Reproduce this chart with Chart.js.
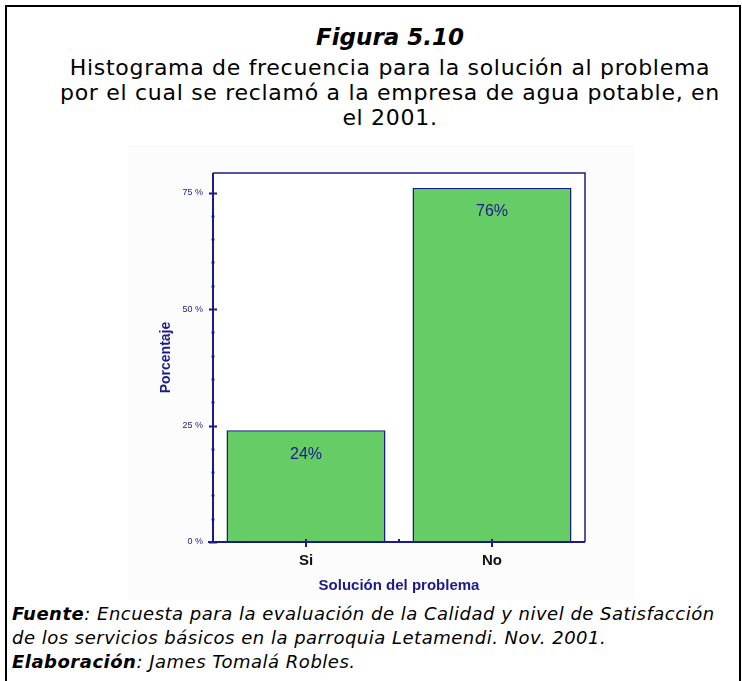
<!DOCTYPE html>
<html><head>
<meta charset="utf-8">
<title>Figura 5.10</title>
<script src="https://cdn.jsdelivr.net/npm/chart.js"></script>
<style>
  body { margin:0; background:#fff; width:742px; height:681px; overflow:hidden; position:relative; font-family:'DejaVu Sans', Verdana, sans-serif }
  .frame { position:absolute; left:5px; top:5px; width:732px; height:700px; border:2px solid #000; border-bottom:none }
  .fig { position:absolute; left:10px; width:760px; top:23px; text-align:center; font-weight:bold; font-style:italic; font-size:23px; line-height:28px }
  .sub { position:absolute; left:10px; width:760px; top:55px; text-align:center; font-size:22px; letter-spacing:0.7px; line-height:25px }
  .foot { position:absolute; left:12px; top:602px; font-size:18px; letter-spacing:0.5px; line-height:24px; font-style:italic; white-space:nowrap }
  #wrap { position:absolute; left:128px; top:145px; width:507px; height:455px; background:#fcfcfc }
</style>
</head><body>
<div class="frame"></div>
<div class="fig">Figura 5.10</div>
<div class="sub">Histograma de frecuencia para la solución al problema<br>por el cual se reclamó a la empresa de agua potable, en<br>el 2001.</div>
<div id="wrap"><canvas id="chart" width="507" height="455"></canvas></div>
<div class="foot"><b>Fuente</b>: Encuesta para la evaluación de la Calidad y nivel de Satisfacción<br>de los servicios básicos en la parroquia Letamendi. Nov. 2001.<br><b>Elaboración</b>: James Tomalá Robles.</div>
<script>
const categories = ["Si", "No"];
const percentages = [24, 76];
const valueLabels = ["24%", "76%"];
const majorTicks = [0, 25, 50, 75];

const navy = "#1b1b8a";
const axisFont = "'Liberation Sans Narrow', 'Liberation Sans', Arial, sans-serif";

const decor = {
  id: "decor",
  beforeDraw(chart) {
    const { ctx, chartArea: a } = chart;
    ctx.save();
    ctx.fillStyle = "#fff";
    ctx.fillRect(a.left, a.top, a.right - a.left, a.bottom - a.top);
    ctx.restore();
  },
  afterDraw(chart) {
    const { ctx, chartArea: a, scales } = chart;
    const y = scales.y, x = scales.x;
    ctx.save();
    ctx.strokeStyle = navy;
    ctx.fillStyle = navy;
    // frame top + right
    ctx.lineWidth = 1.5;
    ctx.beginPath();
    ctx.moveTo(a.left, a.top); ctx.lineTo(a.right, a.top); ctx.lineTo(a.right, a.bottom);
    ctx.stroke();
    // axes
    ctx.lineWidth = 2;
    ctx.beginPath();
    ctx.moveTo(a.left, a.top); ctx.lineTo(a.left, a.bottom + 1);
    ctx.moveTo(a.left - 5, a.bottom); ctx.lineTo(a.right, a.bottom);
    ctx.stroke();
    // y ticks: major every 25, minor every 5
    for (let v = 0; v <= y.max; v += 5) {
      const py = Math.round(y.getPixelForValue(v)) + 0.5;
      if (majorTicks.includes(v)) {
        ctx.fillRect(a.left - 4, py - 1, 8, 2);
      } else {
        ctx.fillRect(a.left - 1.5, py - 1, 3, 2);
      }
    }
    // x ticks at category centres and boundary
    categories.forEach((c, i) => {
      const px = x.getPixelForValue(i);
      ctx.fillRect(px - 1, a.bottom - 3, 2, 8);
    });
    const mid = (x.getPixelForValue(0) + x.getPixelForValue(1)) / 2;
    ctx.fillRect(mid - 1, a.bottom - 3, 2, 2);
    // value labels inside bars
    ctx.font = "16px 'Liberation Sans', Arial, sans-serif";
    ctx.textAlign = "center";
    ctx.textBaseline = "middle";
    chart.getDatasetMeta(0).data.forEach((bar, i) => {
      ctx.fillText(valueLabels[i], bar.x, bar.y + 24);
    });
    ctx.restore();
  }
};

new Chart(document.getElementById("chart"), {
  type: "bar",
  data: {
    labels: categories,
    datasets: [{
      data: percentages,
      backgroundColor: "#66cc66",
      borderColor: navy,
      borderWidth: 1.5,
      borderSkipped: "bottom",
      categoryPercentage: 1,
      barPercentage: 0.855
    }]
  },
  options: {
    responsive: false,
    animation: false,
    layout: { padding: { top: 28, right: 50, left: 0, bottom: 0 } },
    plugins: { legend: { display: false }, tooltip: { enabled: false } },
    scales: {
      y: {
        min: 0, max: 79.2,
        afterFit: s => { s.width = 85; },
        border: { display: false },
        grid: { display: false, drawTicks: false },
        ticks: {
          stepSize: 5,
          autoSkip: false,
          padding: 10,
          color: navy,
          font: { family: axisFont, size: 9 },
          callback: v => majorTicks.includes(v) ? v + " %" : ""
        },
        title: {
          display: true,
          text: "Porcentaje",
          color: navy,
          font: { family: axisFont, size: 14, weight: "bold" },
          padding: { top: 30, bottom: 0 }
        }
      },
      x: {
        afterFit: s => { s.height = 58; },
        border: { display: false },
        grid: { display: false, drawTicks: false },
        ticks: {
          padding: 10,
          color: "#111",
          font: { family: axisFont, size: 15, weight: "bold" }
        },
        title: {
          display: true,
          text: "Solución del problema",
          color: navy,
          font: { family: axisFont, size: 15, weight: "bold" },
          padding: { top: 0, bottom: 5 }
        }
      }
    }
  },
  plugins: [decor]
});
</script>
</body></html>
